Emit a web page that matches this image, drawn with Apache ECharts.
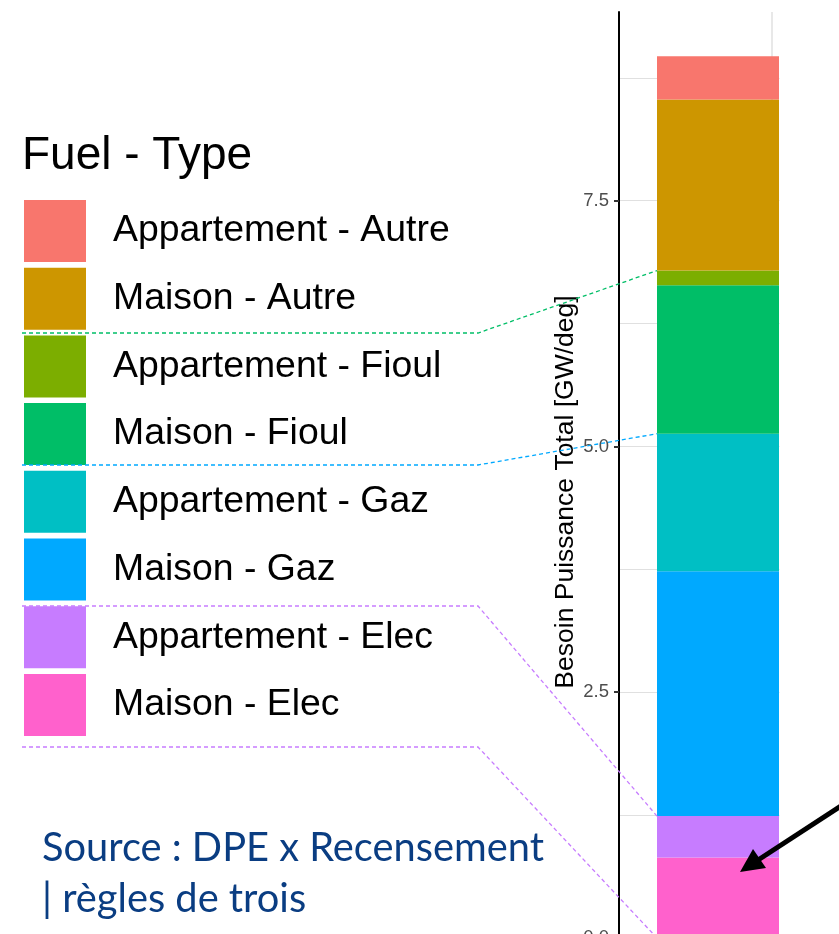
<!DOCTYPE html>
<html>
<head>
<meta charset="utf-8">
<title>Besoin Puissance Total</title>
<script src="https://cdn.jsdelivr.net/npm/echarts@6/dist/echarts.min.js"></script>
<style>
html, body { margin: 0; padding: 0; background: #fff; overflow: hidden; }
#chart { width: 839px; height: 934px; }
</style>
</head>
<body>
<div id="chart"></div>
<script>
// ordre d'empilement, du bas vers le haut
const seriesNames = [
  'Maison - Elec', 'Appartement - Elec', 'Maison - Gaz', 'Appartement - Gaz',
  'Maison - Fioul', 'Appartement - Fioul', 'Maison - Autre', 'Appartement - Autre'
]
const seriesValues = [0.82, 0.42, 2.49, 1.40, 1.51, 0.15, 1.74, 0.44]
const seriesColors = ['#FF61CC', '#C77CFF', '#00A9FF', '#00BFC4', '#00BE67', '#7CAE00', '#CD9600', '#F8766D']
const categories = ['Total']
const yTicks = [0, 2.5, 5, 7.5]
const yMax = 9.42

// traits pointillés légende -> barre : niveau d'empilement visé
const linkLevels = [6, 4, 2, 0]
const linkColors = ['#00BE67', '#00A9FF', '#C77CFF', '#C77CFF']
const linkLegendY = [333, 465, 606, 747]

const chart = echarts.init(document.getElementById('chart'))

const series = seriesNames.map((name, i) => ({
  name: name,
  type: 'bar',
  stack: 'total',
  barWidth: 122,
  yAxisIndex: 0,
  data: [seriesValues[i]],
  itemStyle: { color: seriesColors[i] },
  emphasis: { disabled: true }
}))

const option = {
  animation: false,
  backgroundColor: '#fff',
  title: {
    text: 'Fuel - Type',
    left: 22,
    top: 133,
    padding: 0,
    textStyle: {
      fontFamily: 'Liberation Sans',
      fontSize: 46,
      fontWeight: 'normal',
      color: '#000'
    }
  },
  legend: {
    orient: 'vertical',
    left: 24,
    top: 200,
    padding: 0,
    itemWidth: 62,
    itemHeight: 62,
    itemGap: 5.7,
    icon: 'rect',
    selectedMode: false,
    data: seriesNames.slice().reverse(),
    textStyle: {
      fontFamily: 'Liberation Sans',
      fontSize: 37.4,
      color: '#000',
      padding: [4, 0, 0, 22]
    }
  },
  grid: {
    left: 619,
    right: 22,
    top: 12,
    bottom: -4,
    outerBoundsMode: 'none'
  },
  xAxis: {
    type: 'category',
    data: categories,
    axisLine: { show: false },
    axisTick: { show: false },
    axisLabel: { show: false },
    splitLine: { show: false }
  },
  yAxis: [
    {
      type: 'value',
      min: 0,
      max: yMax,
      interval: 2.5,
      name: 'Besoin Puissance Total [GW/deg]',
      nameLocation: 'middle',
      nameGap: 40,
      nameTextStyle: {
        fontFamily: 'Liberation Sans',
        fontSize: 26.5,
        color: '#000',
        padding: [0, 34, 0, 0]
      },
      axisLine: { show: true, lineStyle: { color: '#000', width: 2 } },
      axisTick: { show: true, length: 5, customValues: yTicks, lineStyle: { color: '#333', width: 2 } },
      axisLabel: {
        customValues: yTicks,
        margin: 10,
        color: '#4d4d4d',
        fontFamily: 'Liberation Sans',
        fontSize: 18.5,
        formatter: (v) => v.toFixed(1)
      },
      splitLine: { show: false }
    },
    {
      type: 'value',
      position: 'left',
      min: 0,
      max: yMax,
      interval: 1.25,
      axisLine: { show: false },
      axisTick: { show: false },
      axisLabel: { show: false },
      splitLine: { show: true, showMaxLine: false, lineStyle: { color: '#e0e0e0', width: 1.2 } }
    }
  ],
  series: series
}

chart.setOption(option)

// annotations : traits pointillés, recadrage à droite, flèche, source
const buildGraphic = () => {
  const elements = []
  const centerX = chart.convertToPixel({ xAxisIndex: 0 }, 0)
  const barLeft = centerX - 61
  const barRight = centerX + 61
  const gridTop = chart.convertToPixel({ yAxisIndex: 0 }, yMax)

  // ligne verticale claire au-dessus de la barre
  elements.push({
    type: 'line', z: 0, silent: true,
    shape: { x1: 772, y1: gridTop, x2: 772, y2: 934 },
    style: { stroke: '#e0e0e0', lineWidth: 1.5 }
  })

  // l'image d'origine est coupée au bord droit de la barre
  elements.push({
    type: 'rect', z: 50, silent: true,
    shape: { x: barRight + 0.5, y: 0, width: 100, height: 934 },
    style: { fill: '#fff' }
  })

  linkLevels.forEach((level, i) => {
    let cum = 0
    for (let k = 0; k < level; k++) cum += seriesValues[k]
    const yBar = chart.convertToPixel({ yAxisIndex: 0 }, cum)
    elements.push({
      type: 'polyline', z: 60, silent: true,
      shape: { points: [[22, linkLegendY[i]], [478, linkLegendY[i]], [barLeft, yBar]] },
      style: { stroke: linkColors[i], lineWidth: 1.3, lineDash: [4, 3], fill: null }
    })
  })

  // flèche noire
  elements.push({
    type: 'line', z: 70, silent: true,
    shape: { x1: 850, y1: 800, x2: 755, y2: 862 },
    style: { stroke: '#000', lineWidth: 5 }
  })
  elements.push({
    type: 'polygon', z: 70, silent: true,
    shape: { points: [[740, 872], [766, 868], [753, 849]] },
    style: { fill: '#000' }
  })

  // source
  elements.push({
    type: 'text', z: 70, silent: true,
    style: {
      x: 42, y: 848, text: 'Source : DPE x Recensement',
      font: '39.8px Lato', fill: '#0a3d82', verticalAlign: 'middle'
    }
  })
  elements.push({
    type: 'text', z: 70, silent: true,
    style: {
      x: 42, y: 899, text: '| règles de trois',
      font: '39.8px Lato', fill: '#0a3d82', verticalAlign: 'middle'
    }
  })
  return elements
}

chart.setOption({ graphic: buildGraphic() })
</script>
</body>
</html>
